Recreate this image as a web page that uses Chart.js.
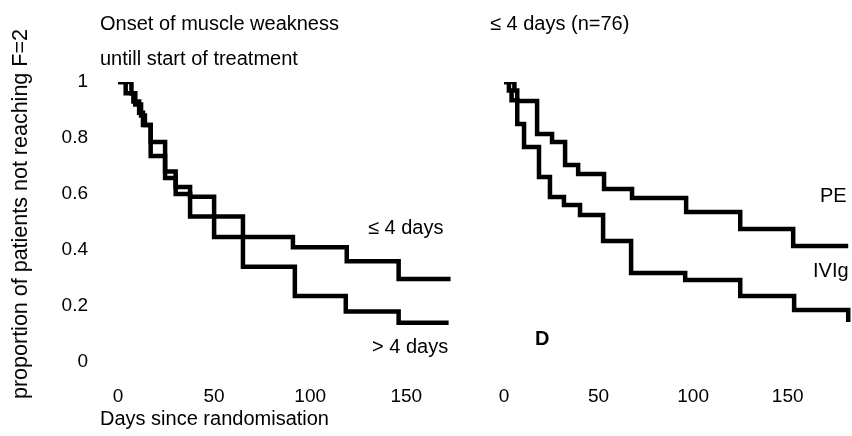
<!DOCTYPE html>
<html>
<head>
<meta charset="utf-8">
<script src="https://cdn.jsdelivr.net/npm/chart.js@4"></script>
<style>
  html, body { margin: 0; padding: 0; background: #fff; overflow: hidden; }
  #wrap { position: relative; width: 852px; height: 436px; }
  canvas { position: absolute; top: 0; }
  #left-chart { left: 0; }
  #right-chart { left: 470px; }
  .txt {
    position: absolute;
    font-family: 'Liberation Sans', Arial, sans-serif;
    font-size: 20px;
    line-height: 20px;
    color: #000;
    white-space: nowrap;
    z-index: 2;
  }
  #y-title {
    font-size: 21.5px;
    line-height: 22px;
    transform: translate(-50%, -50%) rotate(-90deg);
  }
</style>
</head>
<body>
<div id="wrap">
  <canvas id="left-chart" width="470" height="436"></canvas>
  <canvas id="right-chart" width="382" height="436"></canvas>

  <div class="txt" style="left:100px; top:13px;">Onset of muscle weakness</div>
  <div class="txt" style="left:100px; top:48px;">untill start of treatment</div>
  <div class="txt" id="y-title" style="left:20px; top:214px;">proportion of patients not reaching F=2</div>
  <div class="txt" style="left:100px; top:408px;">Days since randomisation</div>
  <div class="txt" style="left:368px; top:217px;">≤ 4 days</div>
  <div class="txt" style="left:372px; top:336px;">&gt; 4 days</div>

  <div class="txt" style="left:490px; top:13px;">≤ 4 days (n=76)</div>
  <div class="txt" style="left:820px; top:185px;">PE</div>
  <div class="txt" style="left:813px; top:260px;">IVIg</div>
  <div class="txt" style="left:535px; top:328px; font-weight:bold;">D</div>
</div>

<script>
// tick labels
const dayTicks = [0, 50, 100, 150];
const propTicks = [0, 0.2, 0.4, 0.6, 0.8, 1];

// left panel: onset of weakness until start of treatment
const shortOnsetDays = [0, 4, 8, 11, 13, 17, 24.5, 30, 37.5, 50, 91, 119, 146, 173];
const shortOnsetProp = [1, 0.96, 0.93, 0.89, 0.846, 0.786, 0.68, 0.625, 0.59, 0.446, 0.41, 0.36, 0.296, 0.296];
const longOnsetDays = [0, 7, 9, 12, 14, 17, 24.5, 30, 37.5, 65, 92, 118.5, 146, 172];
const longOnsetProp = [1, 0.96, 0.92, 0.88, 0.846, 0.736, 0.657, 0.6, 0.52, 0.34, 0.236, 0.18, 0.14, 0.14];

// right panel: <= 4 days, by treatment
const peDays = [0, 5.5, 7, 17.5, 25.4, 32.3, 39.2, 52.9, 67.7, 96.3, 124.9, 152.9, 182];
const peProp = [1, 0.97, 0.932, 0.814, 0.786, 0.704, 0.671, 0.618, 0.586, 0.536, 0.475, 0.414, 0.414];
const ivigDays = [0, 2.6, 4, 7, 10.6, 18.5, 24.3, 31.7, 40.2, 52.4, 67.2, 95.8, 124.9, 153.4, 182];
const ivigProp = [1, 0.97, 0.935, 0.85, 0.768, 0.661, 0.589, 0.561, 0.525, 0.432, 0.318, 0.293, 0.236, 0.186, 0.143];

const tickFont = { family: "'Liberation Sans', Arial, sans-serif", size: 19 };

function toPoints(days, prop) {
    return days.map((d, i) => ({ x: d, y: prop[i] }));
}

// Kaplan-Meier style: hold the level, then drop at the event time
function stepLine(label, days, prop) {
    return {
        label: label,
        data: toPoints(days, prop),
        borderColor: '#000',
        borderWidth: 4.5,
        borderJoinStyle: 'miter',
        stepped: 'before',
        pointRadius: 0,
        fill: false
    };
}

function makeChart(canvasId, datasets, xMax, padLeft, padRight, showY) {
    return new Chart(document.getElementById(canvasId), {
        type: 'line',
        data: { datasets: datasets },
        options: {
            responsive: false,
            animation: false,
            layout: { padding: { left: padLeft, right: padRight, top: 82, bottom: 0 } },
            plugins: { legend: { display: false }, tooltip: { enabled: false } },
            scales: {
                x: {
                    type: 'linear',
                    min: 0,
                    max: xMax,
                    border: { display: false },
                    grid: { display: false, drawTicks: false },
                    ticks: { font: tickFont, color: '#000', padding: 23, maxRotation: 0 },
                    afterBuildTicks: s => { s.ticks = dayTicks.map(v => ({ value: v })); },
                    afterFit: s => { s.height = 74; }
                },
                y: {
                    display: showY,
                    min: 0,
                    max: 1,
                    border: { display: false },
                    grid: { display: false, drawTicks: false },
                    ticks: { font: tickFont, color: '#000', padding: 30, callback: v => String(v) },
                    afterBuildTicks: s => { s.ticks = propTicks.map(v => ({ value: v })); },
                    afterFit: s => { s.width = showY ? 118 : 0; }
                }
            }
        }
    });
}

makeChart('left-chart', [
    stepLine('≤ 4 days', shortOnsetDays, shortOnsetProp),
    stepLine('> 4 days', longOnsetDays, longOnsetProp)
], 180, 0, 6, true);

makeChart('right-chart', [
    stepLine('PE', peDays, peProp),
    stepLine('IVIg', ivigDays, ivigProp)
], 184, 34, 0, false);
</script>
</body>
</html>
